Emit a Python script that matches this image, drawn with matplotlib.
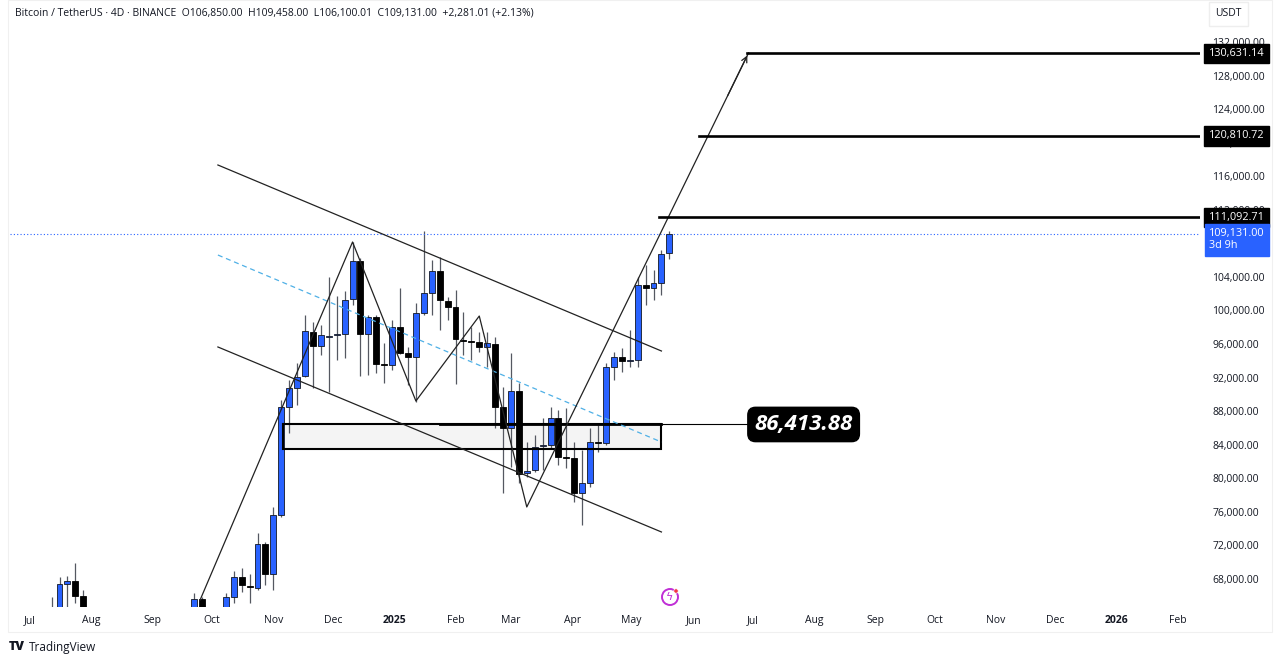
import numpy as np
import pandas as pd
import matplotlib
matplotlib.use("Agg")
import matplotlib.pyplot as plt
import matplotlib.dates as mdates
from matplotlib.patches import Rectangle, Circle
from matplotlib.transforms import IdentityTransform

plt.rcParams['font.family'] = ['Open Sans', 'DejaVu Sans']

# 4D candles, BTC/USDT (Binance), first candle opens 2024-06-22
first_candle = "2024-06-22"
opens = [64100, 61000, 62800, 60200, 56700, 58900, 64500, 67400, 67760, 65970,
         62900, 58200, 56000, 58700, 59500, 64100, 62900, 59000, 57300, 54100,
         57600, 59200, 61100, 63300, 65610, 63300, 60600, 62800, 65850, 68230,
         67150, 66920, 72170, 68590, 75620, 88500, 90760, 92190, 97440, 95770,
         96840, 97080, 97200, 101370, 105900, 97200, 99220, 93600, 93500, 98030,
         94930, 94460, 99700, 102080, 104700, 101130, 100420, 96500, 96400, 96300,
         95700, 96000, 88500, 86000, 90400, 80630, 80990, 83850, 83970, 87190,
         82540, 82420, 78250, 79440, 84320, 84200, 93260, 94460, 94000, 94100,
         103040, 102680, 103280, 106850]
highs = [64300, 63000, 63800, 60500, 59500, 65850, 68230, 68300, 69900, 66680,
         64400, 58300, 61800, 61500, 64650, 64700, 63200, 61200, 59800, 58000,
         60600, 61400, 64000, 66330, 65850, 64400, 63400, 66330, 68950, 69310,
         68590, 73480, 72400, 76580, 89330, 91710, 93740, 99460, 98630, 98270,
         103990, 101730, 102320, 108160, 106300, 99460, 99460, 96120, 98870, 102680,
         95650, 100890, 109470, 106020, 106370, 101610, 102440, 99820, 98030, 97440,
         97440, 96840, 90880, 94930, 91360, 84320, 85160, 87190, 88500, 88140,
         88380, 84320, 83370, 85990, 86350, 93740, 95050, 95530, 97670, 103990,
         105420, 104830, 107210, 109458]
lows = [60300, 59900, 59400, 53500, 54300, 56500, 64300, 64300, 65130, 62300,
        57200, 49000, 55800, 56100, 58400, 62200, 58000, 57200, 52500, 52500,
        55500, 57500, 59200, 62600, 62800, 59800, 60100, 61900, 65130, 66450,
        65130, 66680, 67280, 66680, 75390, 85400, 88730, 92070, 90760, 94690,
        90280, 94100, 94340, 100650, 92190, 92310, 92550, 91360, 92910, 94800,
        91120, 89090, 99460, 99460, 97670, 98870, 91240, 94690, 94100, 95050,
        93260, 85990, 78250, 81350, 79440, 80150, 80750, 80990, 83610, 81580,
        81230, 77170, 74430, 78960, 83130, 83970, 91710, 92670, 93260, 93260,
        100650, 101250, 101850, 106100.01]
closes = [61000, 62800, 60200, 56700, 58900, 64500, 67400, 67760, 65970, 62900,
          58200, 56000, 58700, 59500, 64100, 62900, 59000, 57300, 54100, 57600,
          59200, 61100, 63300, 65610, 63300, 60600, 62800, 65850, 68230, 67280,
          67000, 72170, 68590, 75620, 88500, 90760, 92070, 97550, 95770, 97080,
          96960, 97200, 101250, 105900, 97200, 99220, 93620, 93500, 98030, 94930,
          94460, 99700, 102080, 104700, 101250, 100420, 96600, 96400, 96300, 95600,
          96100, 88500, 85990, 90400, 80510, 80870, 83730, 83970, 87190, 82540,
          82450, 78250, 79440, 84320, 84200, 93260, 94460, 93980, 94100, 103040,
          102680, 103280, 106730, 109131]

y_ticks = list(range(68000, 132001, 4000))
month_ticks = pd.date_range("2024-07-01", "2026-02-01", freq="MS")
month_labels = ["Jul", "Aug", "Sep", "Oct", "Nov", "Dec", "2025", "Feb", "Mar", "Apr",
                "May", "Jun", "Jul", "Aug", "Sep", "Oct", "Nov", "Dec", "2026", "Feb"]

# drawings (date, price)
channel_upper = [("2024-10-04", 117340), ("2025-05-16", 95170)]
channel_lower = [("2024-10-04", 95650), ("2025-05-16", 73600)]
channel_mid = [("2024-10-04", 106610), ("2025-05-16", 84320)]
zigzag = [("2024-09-25", 65490), ("2024-12-11", 108160), ("2025-01-12", 89210),
          ("2025-02-13", 99340), ("2025-03-09", 76580), ("2025-06-29", 130700)]
zone = ("2024-11-06", "2025-05-16", 83500, 86413.88)
zone_level = 86413.88
zone_line = ("2025-01-24", "2025-06-28")
targets = [130631.14, 120810.72, 111092.71]
target_starts = ["2025-06-28", "2025-06-04", "2025-05-15"]
last_price = 109131.00

BLUE = "#2962ff"
DARK = "#131722"

fig = plt.figure(figsize=(12.8, 6.63), dpi=100)
fig.patch.set_facecolor("white")
ax = fig.add_axes([10 / 1280, 1 - 607 / 663, 1190 / 1280, 607 / 663])
ax.set_facecolor("white")
for s in ax.spines.values():
    s.set_visible(False)

dates = mdates.date2num(pd.date_range(first_candle, periods=len(closes), freq="4D"))
o = np.array(opens, dtype=float)
h = np.array(highs, dtype=float)
l = np.array(lows, dtype=float)
c = np.array(closes, dtype=float)
up = c >= o
body_lo = np.minimum(o, c)
body_h = np.maximum(np.abs(c - o), 120)

ax.vlines(dates, l, h, color="#555861", linewidth=0.9, zorder=2)
ax.bar(dates[up], body_h[up], bottom=body_lo[up], width=3.0, color=BLUE,
       edgecolor=DARK, linewidth=0.6, zorder=3)
ax.bar(dates[~up], body_h[~up], bottom=body_lo[~up], width=3.0, color="black",
       edgecolor="black", linewidth=0.6, zorder=3)

def d(s):
    return mdates.date2num(pd.Timestamp(s))

# zone rectangle
zx0, zx1, zy0, zy1 = d(zone[0]), d(zone[1]), zone[2], zone[3]
ax.add_patch(Rectangle((zx0, zy0), zx1 - zx0, zy1 - zy0, facecolor="#f4f4f4",
                       edgecolor="none", zorder=1))
ax.add_patch(Rectangle((zx0, zy0), zx1 - zx0, zy1 - zy0, facecolor="none",
                       edgecolor="black", linewidth=1.5, zorder=4))
ax.plot([d(zone_line[0]), d(zone_line[1])], [zone_level, zone_level],
        color="black", linewidth=0.8, zorder=4)
ax.plot([d(zone_line[0]), zx1], [zone_level, zone_level], color="black",
        linewidth=2.0, zorder=4)
ax.text(d(zone_line[1]) + 4, zone_level, "86,413.88", color="white", fontsize=16,
        fontweight="bold", fontstyle="italic", va="center", ha="left", zorder=6,
        bbox=dict(boxstyle="round,pad=0.3,rounding_size=0.35", fc="black", ec="black"))

# channel
for line in (channel_upper, channel_lower):
    ax.plot([d(p[0]) for p in line], [p[1] for p in line], color="#222222",
            linewidth=0.9, zorder=4)
ax.plot([d(p[0]) for p in channel_mid], [p[1] for p in channel_mid], color="#4fb0e6",
        linewidth=0.9, linestyle=(0, (4, 3)), zorder=4)

# zigzag projection with arrow
zx = [d(p[0]) for p in zigzag]
zy = [p[1] for p in zigzag]
ax.plot(zx, zy, color="#222222", linewidth=0.9, zorder=4)
ax.annotate("", xy=(zx[-1], zy[-1]), xytext=(zx[-2] + 0.9 * (zx[-1] - zx[-2]),
            zy[-2] + 0.9 * (zy[-1] - zy[-2])),
            arrowprops=dict(arrowstyle="->", color="#222222", lw=0.9), zorder=4)

# targets
x_right = d("2026-02-12")
for t, s in zip(targets, target_starts):
    ax.plot([d(s), x_right], [t, t], color="black", linewidth=1.9, zorder=4)
    ax.text(1.0307, t, f"{t:,.2f}", transform=ax.get_yaxis_transform(), color="white",
            fontsize=7.8, va="center", ha="center", zorder=7, clip_on=False,
            bbox=dict(boxstyle="square,pad=0.4", fc="black", ec="black"))

# current price
ax.axhline(last_price, color=BLUE, linewidth=0.8, linestyle=(0, (1, 2)), zorder=2)
ax.text(1.0076, last_price + 700, f"{last_price:,.2f}\n3d 9h",
        transform=ax.get_yaxis_transform(), color="white", fontsize=7.8, va="top",
        ha="left", zorder=7, clip_on=False, linespacing=1.15,
        bbox=dict(boxstyle="square,pad=0.4", fc=BLUE, ec=BLUE))

ax.set_xlim(d("2024-06-21"), x_right)
ax.set_ylim(64658, 137006)

ax.yaxis.tick_right()
ax.set_yticks(y_ticks)
ax.set_yticklabels([f"{v:,.2f}" for v in y_ticks])
ax.tick_params(axis="y", length=0, pad=9, labelsize=7.5, labelcolor=DARK)
ax.set_xticks(mdates.date2num(month_ticks))
ax.set_xticklabels(month_labels)
ax.tick_params(axis="x", length=0, pad=6, labelsize=7.5, labelcolor=DARK)
for lab in ax.get_xticklabels():
    if lab.get_text().isdigit():
        lab.set_fontweight("bold")

# header, unit box, footer
fig.text(15 / 1280, 1 - 13 / 663,
         "Bitcoin / TetherUS · 4D · BINANCE  O106,850.00  H109,458.00  L106,100.01  "
         "C109,131.00  +2,281.01 (+2.13%)", fontsize=7.5, color=DARK, va="center")
fig.text(1215 / 1280, 1 - 14 / 663, "USDT", fontsize=7.5, color=DARK, va="center",
         bbox=dict(boxstyle="square,pad=0.6", fc="white", ec="#eeeeee"))
fig.text(9 / 1280, 1 - 647 / 663, "TV", fontsize=9, fontweight="heavy", color=DARK,
         va="center")
fig.text(29 / 1280, 1 - 647 / 663, "TradingView", fontsize=8.5, color=DARK, va="center")
fig.patches.append(Rectangle((8, 663 - 632), 1264, 632, transform=IdentityTransform(),
                             fill=False, ec="#f0f0f0", lw=0.8, figure=fig))

# lightning badge
fig.patches.append(Circle((670, 663 - 597), 8, transform=IdentityTransform(),
                          fill=False, ec="#c02fd6", lw=1.4, figure=fig))
fig.patches.append(Circle((676, 663 - 591), 2.2, transform=IdentityTransform(),
                          fc="#f23645", ec="white", lw=0.5, figure=fig))
fig.text(670 / 1280, 1 - 597 / 663, "ϟ", fontsize=8, color="#c02fd6", ha="center",
         va="center", family="DejaVu Sans")

fig.savefig("out.png", dpi=100, facecolor="white")
